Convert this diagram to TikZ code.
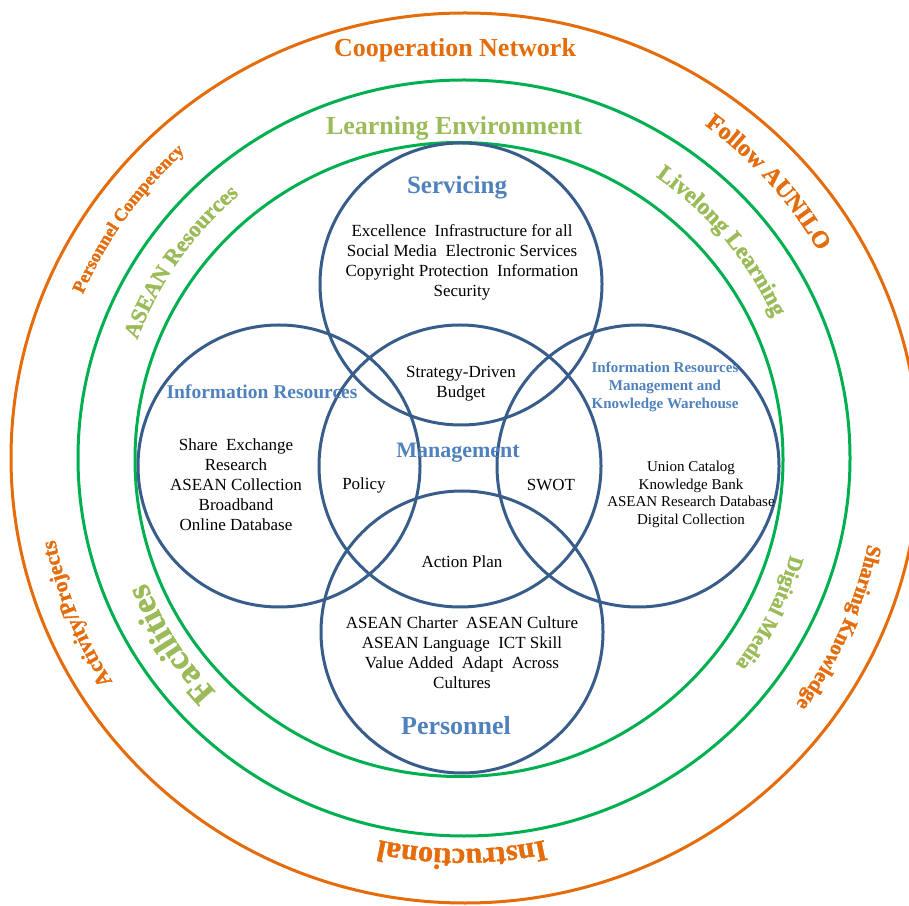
\documentclass[tikz,border=0pt]{standalone}
\usepackage{fontspec}
\setmainfont{Liberation Serif}
\newfontfamily\bandfont[UprightFont={* Bold}, FakeBold=1.4]{Liberation Serif}
\usepackage{xcolor}
\usepackage{tikz}
\usetikzlibrary{decorations.text, positioning}

\definecolor{orng}{HTML}{E46C0A}
\definecolor{grn}{HTML}{00B050}
\definecolor{lgrn}{HTML}{9BBB59}
\definecolor{navy}{HTML}{385D8A}
\definecolor{btxt}{HTML}{4F81BD}

\tikzset{
  ringO/.style={draw=orng, line width=3pt},
  ringG/.style={draw=grn, line width=3pt},
  venn/.style={draw=navy, line width=3pt},
  title/.style={inner sep=0pt, font=\bfseries\fontsize{26}{26}\selectfont},
  head/.style={inner sep=0pt, align=center, text=btxt,
               font=\bfseries\fontsize{#1}{#1}\selectfont},
  body/.style={inner sep=0pt, align=center, font=\fontsize{17}{20}\selectfont},
  bodyS/.style={body, font=\fontsize{15}{17.5}\selectfont},
  bandtext/.style n args={3}{decorate,
               decoration={text effects along path, text={#1}, text align=center,
               text effects/.cd, characters={text along path,
               font=\bandfont\fontsize{#2}{#2}\selectfont, text=#3}}},
}

\begin{document}
\begin{tikzpicture}[x=1pt, y=1pt]
  \useasboundingbox (0,0) rectangle (909,905);

  % rings
  \draw[ringO] (465,447) ellipse [x radius=454, y radius=445];
  \draw[ringG] (464,447) ellipse [x radius=386, y radius=378];
  \draw[ringG] (459,445.5) ellipse [x radius=324, y radius=317];

  % five circles
  \draw[venn] (461,621) circle (141);
  \draw[venn] (279,439) circle (141);
  \draw[venn] (460,439) circle (141);
  \draw[venn] (638,439) circle (141);
  \draw[venn] (462,273) circle (141);

  \coordinate (oc) at (462,447);
  \coordinate (gc) at (461,446);

  % outer band
  \node[title, text=orng] (coop) at (455,855) {Cooperation Network};
  \path[bandtext={Personnel Competency}{18}{orng}] ([shift={(184.4:413)}]oc) arc[start angle=184.4, end angle=104.4, radius=413];
  \path[bandtext={Follow AUNILO}{24}{orng}] ([shift={(82:412)}]oc) arc[start angle=82, end angle=2, radius=412];
  \path[bandtext={Sharing Knowledge}{21}{orng}] ([shift={(15.8:415)}]oc) arc[start angle=15.8, end angle=-64.2, radius=415];
  \path[bandtext={Instructional}{30}{orng}] ([shift={(-50:391)}]oc) arc[start angle=-50, end angle=-130, radius=391];
  \path[bandtext={Activity/Projects}{21.5}{orng}] ([shift={(242:415)}]oc) arc[start angle=242, end angle=162, radius=415];

  % inner band
  \node[title, text=lgrn] (learn) at (454,777) {Learning Environment};
  \path[bandtext={ASEAN Resources}{22.5}{lgrn}] ([shift={(184.9:345)}]gc) arc[start angle=184.9, end angle=104.9, radius=345];
  \path[bandtext={Livelong Learning}{23.5}{lgrn}] ([shift={(79.9:343)}]gc) arc[start angle=79.9, end angle=-0.1, radius=343];
  \path[bandtext={Digital Media}{21}{lgrn}] ([shift={(13.5:343)}]gc) arc[start angle=13.5, end angle=-66.5, radius=343];
  \path[bandtext={Facilities}{34}{lgrn}] ([shift={(252.5:338)}]gc) arc[start angle=252.5, end angle=172.5, radius=338];

  % circle texts
  \node[head=25] (serv) at (457,717) {Servicing};
  \node[body] (servtxt) at (462,643) {Excellence~~Infrastructure for all\\Social Media~~Electronic Services\\Copyright Protection~~Information\\Security};
  \node[body] (budget) at (461,521) {Strategy-Driven\\Budget};
  \node[head=19.5] (irhead) at (262,513) {Information Resources};
  \node[body] (irtxt) at (236,420) {Share~~Exchange\\Research\\ASEAN Collection\\Broadband\\Online Database};
  \node[body] (policy) at (364,420) {Policy};
  \node[head=22] (mgmt) at (458,452) {Management};
  \node[body] (swot) at (551,420) {SWOT};
  \node[head=15, font=\bfseries\fontsize{15}{18}\selectfont] (irmhead) at (665,518) {Information Resources\\Management and\\Knowledge Warehouse};
  \node[bodyS] (irmtxt) at (691,410.5) {Union Catalog\\Knowledge Bank\\ASEAN Research Database\\Digital Collection};
  \node[body] (action) at (462,343) {Action Plan};
  \node[body] (perstxt) at (462,252.5) {ASEAN Charter~~ASEAN Culture\\ASEAN Language~~ICT Skill\\Value Added~~Adapt~~Across\\Cultures};
  \node[head=26] (pers) at (456,179) {Personnel};

\end{tikzpicture}
\end{document}
